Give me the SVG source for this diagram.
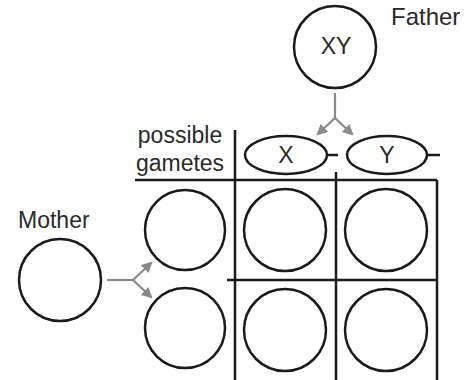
<svg xmlns="http://www.w3.org/2000/svg" width="464" height="380" viewBox="0 0 464 380">
<style>
.c{fill:#fff;stroke:#1a1a1a;stroke-width:2.5}
.g{stroke:#1a1a1a;stroke-width:2.5;fill:none}
.t{font-family:"Liberation Sans",Arial,sans-serif;font-size:23px;fill:#2a2a2a}
.a{stroke:#8a8a8a;stroke-width:2.2;fill:none}
</style>
<defs>
<marker id="ah" viewBox="0 0 10 10" refX="8" refY="5" markerWidth="5" markerHeight="5" orient="auto">
<path d="M0,0 L10,5 L0,10 z" fill="#8a8a8a"/>
</marker>
</defs>
<rect width="464" height="380" fill="#fff"/>
<g id="grid">
<line class="g" x1="235" y1="130" x2="235" y2="380"/>
<line class="g" x1="336" y1="172" x2="336" y2="380"/>
<line class="g" x1="437" y1="180" x2="437" y2="380"/>
<line class="g" x1="135" y1="180" x2="437" y2="180"/>
<line class="g" x1="227" y1="280" x2="437" y2="280"/>
</g>
<g id="label-gametes">
<text class="t" x="180" y="143" text-anchor="middle">possible</text>
<text class="t" x="180" y="171" text-anchor="middle">gametes</text>
</g>
<g id="father">
<circle class="c" cx="335" cy="47" r="41"/>
<text class="t" x="336" y="54" text-anchor="middle">XY</text>
</g>
<text id="father-label" class="t" x="391" y="25" style="font-size:24px">Father</text>
<g id="mother">
<circle class="c" cx="60" cy="280" r="41"/>
</g>
<text id="mother-label" class="t" x="18" y="228">Mother</text>
<g id="gamete-x">
<line class="g" x1="326" y1="155" x2="338" y2="155"/>
<ellipse class="c" cx="286" cy="155" rx="41" ry="19"/>
<text class="t" x="286" y="163" text-anchor="middle">X</text>
</g>
<g id="gamete-y">
<line class="g" x1="427" y1="155" x2="440" y2="155"/>
<ellipse class="c" cx="387" cy="155" rx="40" ry="19"/>
<text class="t" x="387" y="163" text-anchor="middle">Y</text>
</g>
<g id="mother-g1"><circle class="c" cx="185" cy="230" r="40"/></g>
<g id="mother-g2"><circle class="c" cx="185" cy="328" r="40"/></g>
<g id="cell11"><circle class="c" cx="285" cy="230" r="41"/></g>
<g id="cell12"><circle class="c" cx="386" cy="230" r="41"/></g>
<g id="cell21"><circle class="c" cx="285" cy="330" r="41"/></g>
<g id="cell22"><circle class="c" cx="386" cy="330" r="41"/></g>
<g id="connectors">
<polyline class="a" points="335,93 335,118"/>
<line class="a" x1="335" y1="118" x2="318" y2="134" marker-end="url(#ah)"/>
<line class="a" x1="335" y1="118" x2="352" y2="134" marker-end="url(#ah)"/>
<polyline class="a" points="107,280 133,280"/>
<line class="a" x1="133" y1="280" x2="151" y2="263" marker-end="url(#ah)"/>
<line class="a" x1="133" y1="280" x2="151" y2="297" marker-end="url(#ah)"/>
</g>
</svg>
